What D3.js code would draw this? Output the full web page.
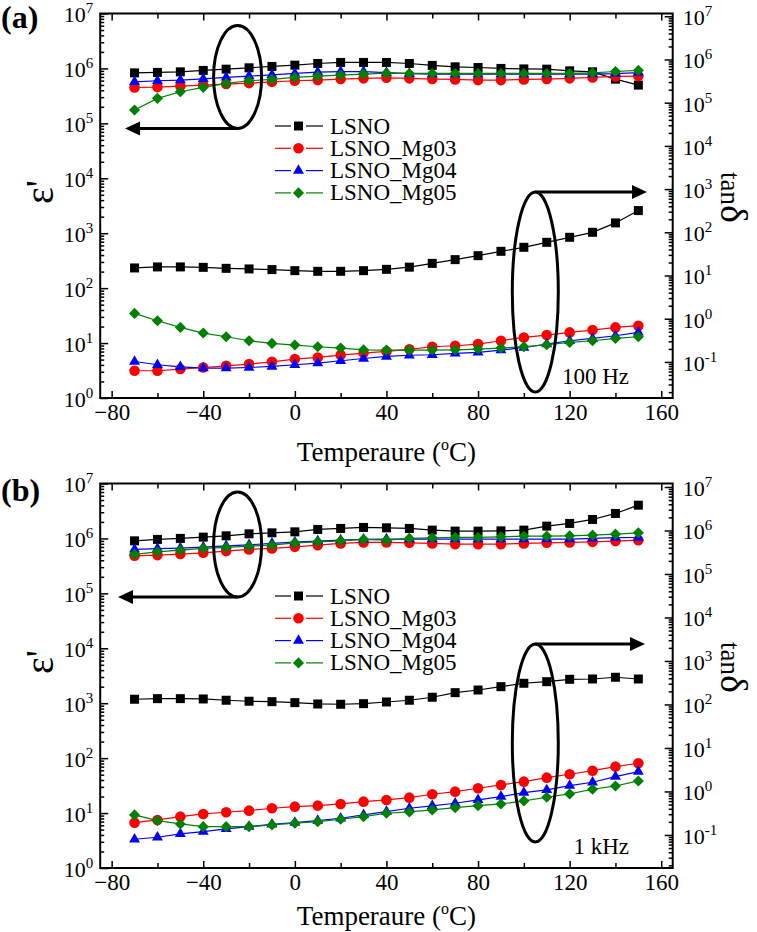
<!DOCTYPE html>
<html>
<head>
<meta charset="utf-8">
<script src="https://cdn.jsdelivr.net/npm/d3@7"></script>
<style>
  body { margin: 0; background: #fff; }
  svg { display: block; font-family: "Liberation Serif", "Times New Roman", serif; }
</style>
</head>
<body>
<svg id="chart" width="757" height="932"></svg>
<script>
// temperature points (°C)
const temps = [-70, -60, -50, -40, -30, -20, -10, 0, 10, 20, 30, 40, 50, 60, 70, 80, 90, 100, 110, 120, 130, 140, 150];

// (a) 100 Hz - permittivity
const epsLSNO_100 = [8.3e5, 8.46e5, 8.67e5, 9.2e5, 9.7e5, 1.026e6, 1.087e6, 1.148e6, 1.23e6, 1.285e6, 1.285e6, 1.285e6, 1.23e6, 1.135e6, 1.07e6, 1.04e6, 1.0e6, 9.8e5, 9.7e5, 9.04e5, 8.67e5, 6.38e5, 4.97e5];
const epsMg03_100 = [4.5e5, 4.57e5, 4.76e5, 4.97e5, 5.19e5, 5.4e5, 5.7e5, 5.96e5, 6.13e5, 6.4e5, 6.6e5, 6.75e5, 6.6e5, 6.4e5, 6.3e5, 6.13e5, 6.13e5, 6.3e5, 6.4e5, 6.6e5, 6.86e5, 7.15e5, 7.25e5];
const epsMg04_100 = [5.7e5, 5.96e5, 6.13e5, 6.47e5, 6.85e5, 7.24e5, 7.65e5, 8.1e5, 8.57e5, 8.75e5, 8.75e5, 8.4e5, 8.03e5, 7.87e5, 7.87e5, 7.87e5, 7.87e5, 7.87e5, 7.87e5, 7.87e5, 7.87e5, 8.03e5, 8.4e5];
const epsMg05_100 = [1.75e5, 2.85e5, 3.76e5, 4.52e5, 5.34e5, 5.96e5, 6.31e5, 6.86e5, 7.24e5, 7.56e5, 7.87e5, 8.2e5, 8.1e5, 8.1e5, 8.1e5, 8.1e5, 8.1e5, 8.1e5, 8.1e5, 8.1e5, 8.3e5, 8.8e5, 9.2e5];
// (a) 100 Hz - loss tangent
const tanLSNO_100 = [14.96, 15.8, 15.8, 15.45, 14.65, 14.2, 13.7, 12.95, 12.5, 12.5, 12.95, 13.9, 15.6, 19.1, 23.3, 28.8, 36.3, 44.9, 58.6, 76.6, 100, 165, 318];
const tanMg03_100 = [0.0624, 0.0624, 0.0683, 0.0743, 0.0814, 0.0891, 0.1007, 0.1164, 0.1268, 0.144, 0.16, 0.1746, 0.196, 0.2244, 0.2366, 0.2594, 0.309, 0.369, 0.419, 0.482, 0.547, 0.63, 0.689];
const tanMg04_100 = [0.1023, 0.0859, 0.0772, 0.072, 0.072, 0.0743, 0.0785, 0.0859, 0.094, 0.1063, 0.12, 0.1337, 0.1426, 0.1465, 0.157, 0.1656, 0.188, 0.216, 0.259, 0.309, 0.349, 0.404, 0.482];
const tanMg05_100 = [1.327, 0.899, 0.629, 0.466, 0.383, 0.309, 0.268, 0.246, 0.2244, 0.2094, 0.191, 0.188, 0.188, 0.188, 0.191, 0.1985, 0.2094, 0.2244, 0.2496, 0.2823, 0.309, 0.349, 0.383];

// (b) 1 kHz - permittivity
const epsLSNO_1k = [9.04e5, 9.6e5, 1.0e6, 1.056e6, 1.115e6, 1.213e6, 1.265e6, 1.318e6, 1.457e6, 1.52e6, 1.585e6, 1.56e6, 1.52e6, 1.416e6, 1.358e6, 1.358e6, 1.375e6, 1.416e6, 1.675e6, 1.875e6, 2.215e6, 2.85e6, 4.03e6];
const epsMg03_1k = [4.83e5, 4.97e5, 5.19e5, 5.47e5, 5.88e5, 6.31e5, 6.58e5, 7.03e5, 7.55e5, 8.11e5, 8.46e5, 8.46e5, 8.32e5, 8.11e5, 7.87e5, 7.87e5, 7.87e5, 8.11e5, 8.32e5, 8.46e5, 8.67e5, 8.93e5, 9.3e5];
const epsMg04_1k = [6.31e5, 6.53e5, 6.67e5, 6.95e5, 7.33e5, 7.65e5, 8.11e5, 8.57e5, 8.93e5, 9.3e5, 9.6e5, 9.7e5, 9.7e5, 9.7e5, 9.7e5, 9.7e5, 9.7e5, 9.7e5, 9.7e5, 9.7e5, 1.0e6, 1.035e6, 1.04e6];
const epsMg05_1k = [5.12e5, 5.7e5, 6.13e5, 6.58e5, 6.86e5, 7.24e5, 7.55e5, 8.32e5, 8.67e5, 9.04e5, 9.6e5, 9.3e5, 1.0e6, 1.026e6, 1.043e6, 1.043e6, 1.07e6, 1.1e6, 1.1e6, 1.115e6, 1.148e6, 1.197e6, 1.265e6];
// (b) 1 kHz - loss tangent
const tanLSNO_1k = [131.8, 136, 136, 133.7, 125, 118.6, 116, 110, 102.6, 101, 104.3, 114, 125, 146.5, 186.8, 215, 256.6, 307, 334, 379, 385, 422, 385];
const tanMg03_1k = [0.1918, 0.2213, 0.2636, 0.304, 0.3326, 0.362, 0.411, 0.4474, 0.472, 0.516, 0.583, 0.638, 0.72, 0.863, 0.99, 1.185, 1.41, 1.68, 2.075, 2.485, 3.0, 3.72, 4.45];
const tanMg04_1k = [0.0796, 0.0885, 0.1054, 0.119, 0.1374, 0.155, 0.176, 0.1918, 0.2133, 0.242, 0.2884, 0.3436, 0.411, 0.4645, 0.5357, 0.638, 0.759, 0.938, 1.082, 1.36, 1.627, 2.19, 2.85];
const tanMg05_1k = [0.2884, 0.2133, 0.179, 0.155, 0.155, 0.155, 0.17, 0.186, 0.202, 0.2296, 0.2636, 0.3155, 0.338, 0.3758, 0.4245, 0.472, 0.516, 0.605, 0.736, 0.877, 1.124, 1.337, 1.743];

const sampleNames = ['LSNO', 'LSNO_Mg03', 'LSNO_Mg04', 'LSNO_Mg05'];
const sampleColors = ['#000000', '#ff0000', '#0000ff', '#008000'];
const sampleSymbols = ['square', 'circle', 'triangle', 'diamond'];

const xTicks = [-80, -40, 0, 40, 80, 120, 160];
const xMinor = [-60, -20, 20, 60, 100, 140];

const panels = [
  { label: '(a)', freq: '100 Hz', top: 13.5, labelY: 28, titleDy: 63, tanLog: [-1.835, 7.064],
    eps: [epsLSNO_100, epsMg03_100, epsMg04_100, epsMg05_100],
    tan: [tanLSNO_100, tanMg03_100, tanMg04_100, tanMg05_100],
    leftEll: { t: -25, cy: 63.5, ry: 51.5, tip: 125 },
    rightEll: { t: 105, cy: 278.5, ry: 100, tip: 647 } },
  { label: '(b)', freq: '1 kHz', top: 483.5, labelY: 501, titleDy: 57, tanLog: [-1.76, 7.08],
    eps: [epsLSNO_1k, epsMg03_1k, epsMg04_1k, epsMg05_1k],
    tan: [tanLSNO_1k, tanMg03_1k, tanMg04_1k, tanMg05_1k],
    leftEll: { t: -25, cy: 61, ry: 52.5, tip: 118 },
    rightEll: { t: 105, cy: 259.5, ry: 99, tip: 645 } }
];

const serif = '"Liberation Serif", "Times New Roman", serif';
const svg = d3.select('#chart');
const left = 100.2, right = 672.7, h = 384.5;
const x = d3.scaleLinear().domain([-85, 165]).range([left, right]);

function symbolPath(kind) {
  if (kind === 'square') return d3.symbol(d3.symbolSquare, 81)();
  if (kind === 'circle') return d3.symbol(d3.symbolCircle, 88)();
  if (kind === 'triangle') return d3.symbol(d3.symbolTriangle, 52)();
  return d3.symbol(d3.symbolSquare, 62)();
}
function symbolRot(kind) { return kind === 'diamond' ? ' rotate(45)' : ''; }

function logMinor(lo, hi) {
  const out = [];
  for (let e = Math.floor(lo); e <= Math.ceil(hi); e++) {
    for (let m = 2; m <= 9; m++) {
      const v = m * Math.pow(10, e);
      const l = Math.log10(v);
      if (l > lo && l < hi) out.push(v);
    }
  }
  return out;
}

function powLabel(sel, anchor) {
  sel.each(function (d) {
    const t = d3.select(this);
    t.text(null).attr('text-anchor', anchor);
    t.append('tspan').text('10');
    t.append('tspan').attr('dy', -9).attr('font-size', 15).text(Math.round(Math.log10(d)));
  });
}

// d3 axes put sans-serif on the group, swap it for the serif face
function plain(sel) { sel.attr('font-family', serif).attr('font-size', null); }

function drawPanel(p) {
  const g = svg.append('g');
  const top = p.top, bottom = p.top + h;
  const yL = d3.scaleLog().domain([1, 1e7]).range([bottom, top]);
  const yR = d3.scaleLog().domain([Math.pow(10, p.tanLog[0]), Math.pow(10, p.tanLog[1])]).range([bottom, top]);

  // frame
  g.append('rect').attr('x', left).attr('y', top).attr('width', right - left).attr('height', h)
    .attr('fill', 'none').attr('stroke', '#000').attr('stroke-width', 2);

  // x axes (ticks inward)
  const xb = g.append('g').attr('transform', `translate(0,${bottom})`)
    .call(d3.axisBottom(x).tickValues(xTicks).tickSize(-7).tickSizeOuter(0).tickPadding(6).tickFormat(d3.format('d')))
    .call(plain);
  xb.selectAll('text').attr('font-size', 23).attr('fill', '#000').attr('font-family', serif);
  g.append('g').attr('transform', `translate(0,${bottom})`)
    .call(d3.axisBottom(x).tickValues(xMinor).tickSize(-5).tickSizeOuter(0).tickFormat(''));
  g.append('g').attr('transform', `translate(0,${top})`)
    .call(d3.axisTop(x).tickValues(xTicks).tickSize(-7).tickSizeOuter(0).tickFormat(''));
  g.append('g').attr('transform', `translate(0,${top})`)
    .call(d3.axisTop(x).tickValues(xMinor).tickSize(-5).tickSizeOuter(0).tickFormat(''));

  // left log axis
  const leftMajor = [1, 10, 100, 1e3, 1e4, 1e5, 1e6, 1e7];
  const la = g.append('g').attr('transform', `translate(${left},0)`)
    .call(d3.axisLeft(yL).tickValues(leftMajor).tickSize(-8).tickSizeOuter(0).tickPadding(7))
    .call(plain);
  la.selectAll('text').attr('font-size', 22).attr('fill', '#000').attr('dy', '0.38em').attr('font-family', serif)
    .call(powLabel, 'end');
  g.append('g').attr('transform', `translate(${left},0)`)
    .call(d3.axisLeft(yL).tickValues(logMinor(0, 7)).tickSize(-4).tickSizeOuter(0).tickFormat(''));

  // right log axis
  const rightMajor = [0.1, 1, 10, 100, 1e3, 1e4, 1e5, 1e6, 1e7];
  const ra = g.append('g').attr('transform', `translate(${right},0)`)
    .call(d3.axisRight(yR).tickValues(rightMajor).tickSize(-8).tickSizeOuter(0).tickPadding(10))
    .call(plain);
  ra.selectAll('text').attr('font-size', 22).attr('fill', '#000').attr('dy', '0.38em').attr('font-family', serif)
    .call(powLabel, 'start');
  g.append('g').attr('transform', `translate(${right},0)`)
    .call(d3.axisRight(yR).tickValues(logMinor(p.tanLog[0], p.tanLog[1])).tickSize(-4).tickSizeOuter(0).tickFormat(''));

  g.selectAll('.domain').remove();
  g.selectAll('.tick line').attr('stroke', '#000').attr('stroke-width', 1.5);

  // curves
  const series = [];
  sampleNames.forEach((name, i) => {
    series.push({ name, i, scale: yL, vals: p.eps[i] });
    series.push({ name, i, scale: yR, vals: p.tan[i] });
  });
  series.forEach(s => {
    const pts = temps.map((t, k) => [x(t), s.scale(s.vals[k])]);
    g.append('path').attr('d', d3.line()(pts)).attr('fill', 'none')
      .attr('stroke', sampleColors[s.i]).attr('stroke-width', 1.2);
  });
  series.forEach(s => {
    const kind = sampleSymbols[s.i];
    g.append('g').selectAll('path').data(temps).join('path')
      .attr('d', symbolPath(kind))
      .attr('transform', (t, k) => `translate(${x(t)},${s.scale(s.vals[k])})` + symbolRot(kind))
      .attr('fill', sampleColors[s.i]);
  });

  // legend
  const lg = g.append('g').attr('transform', `translate(0,${top + 112.5})`);
  sampleNames.forEach((name, i) => {
    const row = lg.append('g').attr('transform', `translate(0,${i * 22.3})`);
    row.append('line').attr('x1', 275).attr('x2', 291).attr('stroke', sampleColors[i]).attr('stroke-width', 1.2);
    row.append('line').attr('x1', 306).attr('x2', 323).attr('stroke', sampleColors[i]).attr('stroke-width', 1.2);
    row.append('path').attr('d', symbolPath(sampleSymbols[i]))
      .attr('transform', 'translate(298.5,0)' + symbolRot(sampleSymbols[i])).attr('fill', sampleColors[i]);
    row.append('text').attr('x', 330).attr('y', 7.5).attr('font-size', 23).text(name);
  });

  // ellipses and arrows
  const arrowHead = (tipX, y, dir) => {
    const len = 15, hw = 7;
    return `M${tipX},${y}L${tipX - dir * len},${y - hw}L${tipX - dir * len},${y + hw}Z`;
  };
  const le = p.leftEll, lx = x(le.t);
  g.append('ellipse').attr('cx', lx).attr('cy', top + le.cy).attr('rx', 24).attr('ry', le.ry)
    .attr('fill', 'none').attr('stroke', '#000').attr('stroke-width', 3);
  g.append('line').attr('x1', lx).attr('y1', top + le.cy + le.ry).attr('x2', le.tip + 10).attr('y2', top + le.cy + le.ry)
    .attr('stroke', '#000').attr('stroke-width', 3);
  g.append('path').attr('d', arrowHead(le.tip, top + le.cy + le.ry, -1)).attr('fill', '#000');

  const re = p.rightEll, rx = x(re.t);
  g.append('ellipse').attr('cx', rx).attr('cy', top + re.cy).attr('rx', 23).attr('ry', re.ry)
    .attr('fill', 'none').attr('stroke', '#000').attr('stroke-width', 3);
  g.append('line').attr('x1', rx).attr('y1', top + re.cy - re.ry).attr('x2', re.tip - 10).attr('y2', top + re.cy - re.ry)
    .attr('stroke', '#000').attr('stroke-width', 3);
  g.append('path').attr('d', arrowHead(re.tip, top + re.cy - re.ry, 1)).attr('fill', '#000');

  // texts
  g.append('text').attr('x', 629).attr('y', top + 370).attr('text-anchor', 'end').attr('font-size', 23).text(p.freq);
  g.append('text').attr('x', 1).attr('y', p.labelY).attr('font-size', 32).attr('font-weight', 'bold').text(p.label);

  const xt = g.append('text').attr('x', (left + right) / 2).attr('y', bottom + p.titleDy).attr('text-anchor', 'middle').attr('font-size', 27);
  xt.append('tspan').text('Temperaure (');
  xt.append('tspan').attr('dy', -11).attr('font-size', 16).text('o');
  xt.append('tspan').attr('dy', 11).text('C)');

  g.append('text').attr('transform', `translate(53,${top + 178.5}) rotate(-90)`).attr('text-anchor', 'middle')
    .attr('font-size', 40).text('ε\'');

  const tl = g.append('text').attr('transform', `translate(721,${top + 158.5}) rotate(90)`).attr('font-size', 27);
  tl.append('tspan').text('tan');
  tl.append('tspan').attr('font-size', 38).text('δ');
}

panels.forEach(drawPanel);
</script>
</body>
</html>
